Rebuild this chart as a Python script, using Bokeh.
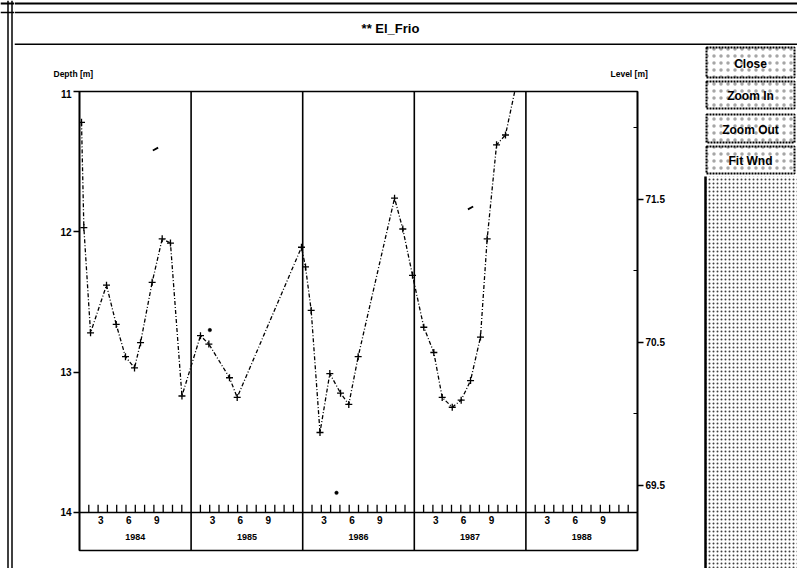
from bokeh.plotting import figure
from bokeh.models import Range1d, LinearAxis, FixedTicker, Span
from bokeh.layouts import column, row
from bokeh.embed import file_html
from bokeh.resources import INLINE
from bokeh.core.properties import value

# ---------------- data ----------------
years = [1984, 1985, 1986, 1987, 1988]
year_labels = ["1984", "1985", "1986", "1987", "1988"]
label_months = [3, 6, 9]
month_labels = ["3", "6", "9"]

# observed depth series (decimal year, depth in m)
obs_time = [1984.018, 1984.039, 1984.099, 1984.242, 1984.329, 1984.412, 1984.493,
            1984.547, 1984.651, 1984.741, 1984.815, 1984.918,
            1985.084, 1985.159, 1985.344, 1985.413, 1985.989,
            1986.025, 1986.076, 1986.155, 1986.243, 1986.339, 1986.413, 1986.497,
            1986.823, 1986.897, 1986.984,
            1987.085, 1987.175, 1987.250, 1987.340, 1987.420, 1987.504, 1987.593,
            1987.653, 1987.737, 1987.817, 1987.916]
obs_depth = [11.22, 11.97, 12.72, 12.38, 12.66, 12.89, 12.97,
             12.79, 12.36, 12.05, 12.08, 13.17,
             12.74, 12.80, 13.04, 13.18, 12.11,
             12.25, 12.56, 13.43, 13.01, 13.15, 13.23, 12.89,
             11.76, 11.98, 12.31,
             12.68, 12.86, 13.18, 13.25, 13.20, 13.06, 12.75,
             12.05, 11.38, 11.31, 10.94]

# isolated single readings (short dashes and dots)
dash_time = [1984.681, 1987.504]
dash_depth = [11.41, 11.83]
dot_time = [1985.168, 1986.303]
dot_depth = [12.70, 13.86]

depth_ticks = [11, 12, 13, 14]
level_ticks = [69.5, 70.5, 71.5]
level_minor = [70, 71, 72]

depth_title = "Depth [m]"
level_title = "Level [m]"
buttons = ["Close", "Zoom In", "Zoom Out", "Fit Wnd"]
window_title = "** El_Frio"

FONT = "Liberation Sans"


def bare(fig):
    fig.outline_line_color = None
    fig.background_fill_color = "white"
    fig.border_fill_color = "white"
    fig.xgrid.grid_line_color = None
    fig.ygrid.grid_line_color = None


def make_bare(w, h):
    f = figure(width=w, height=h, x_range=Range1d(0, w), y_range=Range1d(h, 0),
               output_backend="svg", toolbar_location=None, title=None, min_border=0,
               x_axis_location=None, y_axis_location=None)
    bare(f)
    return f


def hspan(f, y, w):
    f.add_layout(Span(location=y, dimension="width", line_color="black", line_width=w))


# ---------------- window left border (full height) ----------------
lb = make_bare(14, 568)
for bx in [7.5, 11.5]:
    lb.add_layout(Span(location=bx, dimension="height", line_color="black", line_width=1.5))
hspan(lb, 3, 2)
hspan(lb, 12, 1.5)

# ---------------- title bar ----------------
t = make_bare(783, 45)
hspan(t, 3, 2)
hspan(t, 12, 1.5)
hspan(t, 44, 2)
t.text(x=[376], y=[28], text=[window_title], text_align="center", text_baseline="middle",
       text_font=value(FONT), text_font_size="13px", text_font_style="bold", text_color="black")

# ---------------- header strip with axis titles ----------------
hd = make_bare(689, 44)
hd.text(x=[39, 596], y=[28, 28], text=[depth_title, level_title], text_align="left",
        text_baseline="middle", text_font=value(FONT), text_font_size="8.5px",
        text_font_style="bold", text_color="black")

# ---------------- main chart ----------------
p = figure(width=689, height=479,
           x_range=Range1d(1984, 1989), y_range=Range1d(14.271, 11),
           output_backend="svg", toolbar_location=None, title=None,
           min_border_left=65, min_border_right=66, min_border_top=2, min_border_bottom=18,
           x_axis_location=None, y_axis_location=None)
bare(p)
p.outline_line_color = "black"
p.outline_line_width = 1.6


def style_axis(ax):
    ax.axis_line_width = 1.6
    ax.axis_line_color = "black"
    ax.major_tick_line_width = 1.5
    ax.major_tick_out = 6
    ax.major_tick_in = 0
    ax.minor_tick_in = 4
    ax.minor_tick_out = 0
    ax.minor_tick_line_width = 1.2
    ax.major_label_text_font = FONT
    ax.major_label_text_font_size = "10px"
    ax.major_label_text_font_style = "bold"
    ax.major_label_text_color = "black"
    ax.major_label_standoff = 2


left = LinearAxis(ticker=FixedTicker(ticks=depth_ticks, minor_ticks=[]))
style_axis(left)
p.add_layout(left, "left")

p.extra_y_ranges = {"level": Range1d(69.045, 72.255)}
right = LinearAxis(y_range_name="level", ticker=FixedTicker(ticks=level_ticks, minor_ticks=level_minor))
style_axis(right)
p.add_layout(right, "right")

# year dividers and time axis line
for yr in years[1:]:
    p.add_layout(Span(location=yr, dimension="height", line_color="black", line_width=1.6))
p.add_layout(Span(location=depth_ticks[-1], dimension="width", line_color="black", line_width=1.6))

# month ticks
mt_x = [yr + k / 12 for yr in years for k in range(1, 12)]
p.segment(x0=mt_x, x1=mt_x, y0=[depth_ticks[-1]] * len(mt_x),
          y1=[depth_ticks[-1] - 0.055] * len(mt_x), line_color="black", line_width=1.3)

# month labels and year labels
ml_x = [yr + (m - 1) / 12 + 0.025 for yr in years for m in label_months]
ml_t = [lab for yr in years for lab in month_labels]
p.text(x=ml_x, y=[depth_ticks[-1] + 0.057] * len(ml_x), text=ml_t,
       text_align="center", text_baseline="middle", text_font=value(FONT),
       text_font_size="10px", text_font_style="bold", text_color="black")
p.text(x=[yr + 0.5 for yr in years], y=[depth_ticks[-1] + 0.178] * len(years), text=year_labels,
       text_align="center", text_baseline="middle", text_font=value(FONT),
       text_font_size="9px", text_font_style="bold", text_color="black")

# data
p.line(obs_time, obs_depth, line_color="black", line_width=1.3, line_dash="4 2 1 2")
p.scatter(obs_time, obs_depth, marker="cross", size=7, line_color="black", line_width=1.3)
p.scatter(dash_time, dash_depth, marker="dash", size=6, line_color="black",
          line_width=1.8, angle=0.5)
p.scatter(dot_time, dot_depth, marker="circle", size=3.5, line_color="black",
          fill_color="black", line_width=0.5)

# ---------------- side button panel ----------------
s = make_bare(94, 523)
btn_top = [2, 36, 69, 101]
btn_bot = [32, 63, 97, 128]
s.quad(left=[3] * 4, right=[91] * 4, top=btn_top, bottom=btn_bot,
       fill_color="white", hatch_pattern="dot", hatch_color="black", hatch_scale=7,
       hatch_alpha=0.35, line_color="black", line_width=2, line_dash="2 1")
s.text(x=[47] * 4, y=[(a + b) / 2 + 1 for a, b in zip(btn_top, btn_bot)], text=buttons,
       text_align="center", text_baseline="middle", text_font=value(FONT),
       text_font_size="12px", text_font_style="bold", text_color="black")
s.quad(left=[2], right=[94], top=[131], bottom=[523], fill_color="white",
       hatch_pattern="dot", hatch_color="black", hatch_scale=4, hatch_alpha=0.75,
       line_color=None)
s.segment(x0=[2], x1=[2], y0=[131], y1=[523], line_color="black", line_width=2.5)

layout = row(lb, column(t, row(column(hd, row(p)), s)))
open("out.html", "w").write(file_html(layout, INLINE))
